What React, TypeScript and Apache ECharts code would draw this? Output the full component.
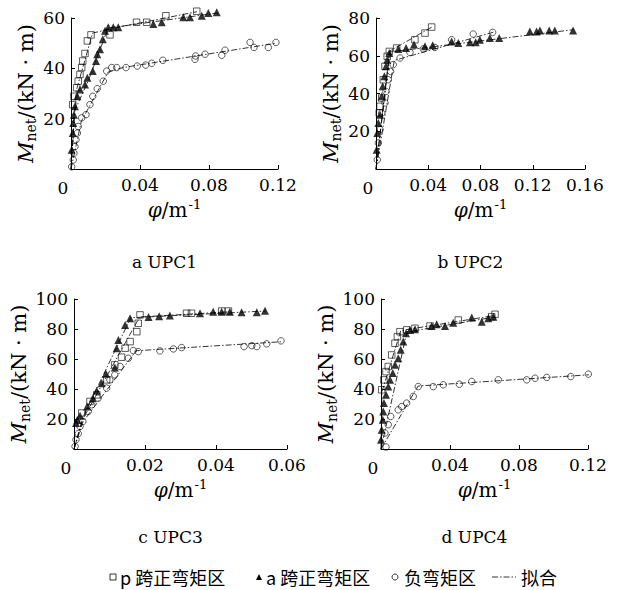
import React, { useEffect, useRef } from "react";
import * as echarts from "echarts";

type P = [number, number];

// ---------- Panel a: UPC1 ----------
const aSquare: P[] = [
  [0.001, 25.6], [0.0017, 28.9], [0.0033, 32.3], [0.0042, 34.9], [0.0052, 37.6], [0.0062, 40.3],
  [0.0068, 42.9], [0.0081, 45.9], [0.0095, 50.9], [0.0116, 53.3], [0.0226, 53.3], [0.038, 58.3],
  [0.0439, 58.3], [0.055, 60.9], [0.0729, 62.7],
];
const aTriangle: P[] = [
  [0.0004, 7.6], [0.001, 14.3], [0.0013, 18.3], [0.0017, 21.6], [0.0023, 24.9], [0.0037, 28.9],
  [0.0052, 31.6], [0.0081, 33.6], [0.0095, 36.3], [0.0126, 38.9], [0.0145, 42.9], [0.0152, 45.6],
  [0.0168, 47.6], [0.0184, 51.6], [0.0197, 54.9], [0.0216, 56.3], [0.0245, 56.3], [0.0274, 56.3],
  [0.0477, 57.6], [0.0526, 58.3], [0.0651, 60.3], [0.069, 60.3], [0.0758, 60.9], [0.0796, 62],
  [0.0845, 62.3],
];
const aCircle: P[] = [
  [0.0004, 0.9], [0.0013, 3.6], [0.0017, 6.3], [0.0023, 8.9], [0.0029, 11.6], [0.0037, 14.3],
  [0.0042, 16.9], [0.0062, 20.3], [0.0087, 21.6], [0.011, 25.6], [0.0126, 28.9], [0.0152, 31.9],
  [0.0187, 34.9], [0.0207, 38.9], [0.0236, 40.3], [0.0265, 40.3], [0.0319, 40.3], [0.0384, 40.9],
  [0.0433, 41.3], [0.0468, 42], [0.0532, 43.2], [0.0719, 43.6], [0.0723, 44.9], [0.0777, 45.6],
  [0.0874, 45.2], [0.0893, 47.2], [0.1038, 50.3], [0.1061, 48.3], [0.1144, 48.3], [0.1188, 50.3],
];
const aSquareFit: P[] = [[0, 0], [0.003, 31], [0.0125, 54], [0.025, 56], [0.073, 62.5]];
const aTriangleFit: P[] = [[0, 0], [0.002, 23], [0.01, 35], [0.0215, 56], [0.085, 62]];
const aCircleFit: P[] = [[0, 0], [0.006, 19], [0.0215, 38.5], [0.03, 40.3], [0.119, 50]];

// ---------- Panel b: UPC2 ----------
const bSquare: P[] = [
  [0.0025, 29.7], [0.0031, 33.2], [0.0044, 37.6], [0.0056, 47.3], [0.0069, 54.4], [0.0086, 59.7],
  [0.0102, 62.3], [0.0158, 64.1], [0.0298, 68.5], [0.0375, 72], [0.0426, 75.2],
];
const bTriangle: P[] = [
  [0.0005, 10.2], [0.001, 19.1], [0.0018, 24.4], [0.0031, 28.8], [0.0044, 38.5], [0.0051, 43.8],
  [0.0064, 49.1], [0.0076, 54.4], [0.0086, 57.9], [0.0102, 61.5], [0.0171, 63.6], [0.023, 64.1],
  [0.0291, 65.9], [0.0375, 65], [0.0434, 65.5], [0.0579, 67.6], [0.063, 66.8], [0.0719, 67.1],
  [0.0763, 67.1], [0.0795, 68.5], [0.0872, 69.4], [0.0943, 69.4], [0.1178, 72.9], [0.1229, 72.9],
  [0.1255, 73.4], [0.1326, 73.4], [0.1369, 73.4], [0.1509, 73.4],
];
const bCircle: P[] = [
  [0.001, 4.9], [0.0018, 13.8], [0.0031, 20.8], [0.0044, 29.7], [0.0069, 35], [0.0076, 41.1],
  [0.0094, 47.3], [0.0112, 51.7], [0.0132, 55.3], [0.0184, 58.8], [0.026, 61.8], [0.0362, 63.6],
  [0.0451, 64.4], [0.0579, 68.5], [0.0744, 71.5], [0.0893, 72.4],
];
const bSquareFit: P[] = [[0, 0], [0.0105, 62.5], [0.0435, 75.5]];
const bTriangleFit: P[] = [[0, 0], [0.0105, 62], [0.151, 73.8]];
const bCircleFit: P[] = [[0, 0], [0.014, 57.5], [0.09, 72.5]];

// ---------- Panel c: UPC3 ----------
const cSquare: P[] = [
  [0.0022, 24], [0.0045, 31.7], [0.0064, 36.1], [0.0092, 46.1], [0.0115, 56.1], [0.0134, 61.2],
  [0.0144, 67.2], [0.0158, 71.6], [0.0177, 78.2], [0.0181, 83.8], [0.0186, 89.4], [0.0317, 90.5],
  [0.0331, 90.5], [0.0416, 92], [0.0435, 92],
];
const cTriangle: P[] = [
  [0.00056, 17.3], [0.00093, 19.5], [0.0017, 22.2], [0.0037, 28.3], [0.0053, 33.9], [0.0064, 38.8],
  [0.0078, 43.9], [0.009, 50.1], [0.0115, 54.3], [0.012, 67.2], [0.0125, 72.7], [0.0144, 82.7],
  [0.0158, 87.2], [0.021, 88], [0.024, 88.5], [0.027, 89], [0.0355, 90.5], [0.0392, 91.5],
  [0.0416, 91.5], [0.0439, 91.5], [0.0472, 91.1], [0.0515, 91.1], [0.0538, 92.2],
];
const cCircle: P[] = [
  [0.0003, 1.7], [0.00056, 6.2], [0.0012, 10.2], [0.0017, 15], [0.0025, 18.4], [0.004, 25],
  [0.005, 29.5], [0.0068, 33.9], [0.0092, 40.6], [0.0101, 46.1], [0.0115, 49.4], [0.013, 55],
  [0.0153, 60.5], [0.0167, 65.6], [0.0181, 64.9], [0.0242, 65.4], [0.028, 66.7], [0.0303, 67.6],
  [0.0479, 68.3], [0.0501, 68.9], [0.0515, 68.3], [0.0543, 70.1], [0.0583, 72.1],
];
const cSquareFit: P[] = [[0, 0], [0.0025, 20], [0.0185, 88], [0.044, 91.5]];
const cTriangleFit: P[] = [[0, 0], [0.0025, 21], [0.016, 87.5], [0.054, 92]];
const cCircleFit: P[] = [[0, 0], [0.0025, 18], [0.0175, 65.5], [0.0585, 71.5]];

// ---------- Panel d: UPC4 ----------
const dSquare: P[] = [
  [0.0004, 39.5], [0.0017, 46.1], [0.0029, 51.6], [0.0042, 55], [0.0062, 62.7], [0.0081, 70.5],
  [0.0095, 74.9], [0.011, 78.2], [0.0149, 79.4], [0.0197, 80.5], [0.0284, 82], [0.0448, 86],
  [0.0642, 88.2], [0.0661, 89.8],
];
const dTriangle: P[] = [
  [0, 6.2], [0.0004, 12.8], [0.001, 19.5], [0.0013, 25], [0.0017, 30.6], [0.0029, 36.1],
  [0.0042, 41.6], [0.0052, 46.1], [0.0068, 50.6], [0.0081, 56.1], [0.01, 60.5], [0.0114, 66.1],
  [0.0129, 71.6], [0.0145, 77.2], [0.0168, 79.4], [0.0197, 79.8], [0.0294, 82], [0.0323, 83.2],
  [0.0371, 82], [0.0419, 84.2], [0.0526, 87.6], [0.0584, 84.9], [0.0622, 87.2], [0.0651, 88.2],
];
const dCircle: P[] = [
  [0.0029, 1.3], [0.0023, 10.6], [0.0042, 16.2], [0.0056, 21.7], [0.01, 26.1], [0.012, 28.3],
  [0.0149, 30.6], [0.0187, 35], [0.0216, 41.6], [0.0303, 41.6], [0.0361, 42.8], [0.0454, 43.2],
  [0.0526, 45], [0.068, 46.1], [0.0845, 46.1], [0.0893, 47.2], [0.0961, 47.7], [0.11, 48.3],
  [0.1202, 49.9],
];
const dSquareFit: P[] = [[0, 0], [0.0005, 38], [0.0115, 79], [0.066, 89]];
const dTriangleFit: P[] = [[0, 0], [0.015, 78], [0.066, 88]];
const dCircleFit: P[] = [[0, 0], [0.0215, 42], [0.121, 49.5]];

// ---------- axes / labels ----------
const xMaxes = [0.12, 0.16, 0.06, 0.12];
const xSteps = [0.04, 0.04, 0.02, 0.04];
const yMaxes = [60, 80, 100, 100];
const yStep = 20;
const panelTitles = ["a UPC1", "b UPC2", "c UPC3", "d UPC4"];
const legendNames = ["p 跨正弯矩区", "a 跨正弯矩区", "负弯矩区", "拟合"];

const panels = [
  { sq: aSquare, tr: aTriangle, ci: aCircle, sqF: aSquareFit, trF: aTriangleFit, ciF: aCircleFit },
  { sq: bSquare, tr: bTriangle, ci: bCircle, sqF: bSquareFit, trF: bTriangleFit, ciF: bCircleFit },
  { sq: cSquare, tr: cTriangle, ci: cCircle, sqF: cSquareFit, trF: cTriangleFit, ciF: cCircleFit },
  { sq: dSquare, tr: dTriangle, ci: dCircle, sqF: dSquareFit, trF: dTriangleFit, ciF: dCircleFit },
];

const grids = [
  { left: 71, top: 18, width: 207, height: 151 },
  { left: 376, top: 18, width: 209, height: 151 },
  { left: 74, top: 299, width: 213, height: 150 },
  { left: 381, top: 299, width: 207, height: 150 },
];

const SERIF = "DejaVu Serif";
const CJK = "Noto Sans CJK SC";
const DASHDOT = [6, 2, 1.5, 2];

export default function App() {
  const ref = useRef<HTMLDivElement>(null);
  useEffect(() => {
    if (!ref.current) return;
    const chart = echarts.init(ref.current, undefined, { renderer: "svg" });

    const xAxis: any[] = [];
    const yAxis: any[] = [];
    const series: any[] = [];
    const graphic: any[] = [];

    grids.forEach((g, i) => {
      xAxis.push({
        gridIndex: i,
        type: "value",
        min: 0,
        max: xMaxes[i],
        interval: xSteps[i],
        axisLine: { show: true, onZero: false, lineStyle: { color: "#000", width: 1 } },
        axisTick: { show: true, inside: true, length: 4, lineStyle: { color: "#000" } },
        splitLine: { show: false },
        axisLabel: {
          color: "#000",
          fontFamily: SERIF,
          fontSize: 17,
          margin: 7,
          formatter: (v: number) => (v === 0 ? "" : v.toFixed(2)),
        },
        name: "{i|φ}{n|/m}{s|-1}",
        nameLocation: "middle",
        nameGap: 29,
        nameTextStyle: {
          rich: {
            i: { fontFamily: SERIF, fontStyle: "italic", fontSize: 20, color: "#000" },
            n: { fontFamily: SERIF, fontSize: 20, color: "#000" },
            s: { fontFamily: SERIF, fontSize: 13, color: "#000", padding: [0, 0, 10, 1] },
          },
        },
      });
      yAxis.push({
        gridIndex: i,
        type: "value",
        min: 0,
        max: yMaxes[i],
        interval: yStep,
        axisLine: { show: true, onZero: false, lineStyle: { color: "#000", width: 1 } },
        axisTick: { show: true, inside: true, length: 4, lineStyle: { color: "#000" } },
        splitLine: { show: false },
        axisLabel: {
          color: "#000",
          fontFamily: SERIF,
          fontSize: 17,
          margin: 6,
          formatter: (v: number) => (v === 0 ? "" : String(v)),
        },
        name: "{i|M}{s|net}{n|/(kN · m)}",
        nameLocation: "middle",
        nameRotate: 90,
        nameGap: 33,
        nameTextStyle: {
          rich: {
            i: { fontFamily: SERIF, fontStyle: "italic", fontSize: 21, color: "#000" },
            s: { fontFamily: SERIF, fontSize: 14, color: "#000", padding: [11, 0, 0, 0] },
            n: { fontFamily: SERIF, fontSize: 21, color: "#000" },
          },
        },
      });

      const p = panels[i];
      const fitStyle = { color: "#000", width: 0.8, type: DASHDOT };
      [p.sqF, p.trF, p.ciF].forEach((d) => {
        series.push({
          type: "line",
          name: legendNames[3],
          xAxisIndex: i,
          yAxisIndex: i,
          data: d,
          symbol: "none",
          clip: false,
          lineStyle: fitStyle,
          z: 1,
        });
      });
      series.push({
        type: "scatter",
        name: legendNames[0],
        xAxisIndex: i,
        yAxisIndex: i,
        data: p.sq,
        symbol: "rect",
        symbolSize: 6.5,
        clip: false,
        itemStyle: { color: "rgba(0,0,0,0)", borderColor: "#000", borderWidth: 0.8 },
        z: 3,
      });
      series.push({
        type: "scatter",
        name: legendNames[1],
        xAxisIndex: i,
        yAxisIndex: i,
        data: p.tr,
        symbol: "triangle",
        symbolSize: 8,
        clip: false,
        itemStyle: { color: "#000" },
        z: 3,
      });
      series.push({
        type: "scatter",
        name: legendNames[2],
        xAxisIndex: i,
        yAxisIndex: i,
        data: p.ci,
        symbol: "circle",
        symbolSize: 6.5,
        clip: false,
        itemStyle: { color: "rgba(0,0,0,0)", borderColor: "#000", borderWidth: 0.8 },
        z: 3,
      });

      // origin "0"
      graphic.push({
        type: "text",
        x: g.left - 8,
        y: g.top + g.height + 19,
        style: {
          text: "0",
          fill: "#000",
          font: `17px "${SERIF}"`,
          textAlign: "center",
          textVerticalAlign: "middle",
        },
      });
      // panel title
      graphic.push({
        type: "text",
        x: g.left + g.width / 2 - 10,
        y: i < 2 ? 262 : 537,
        style: {
          text: panelTitles[i],
          fill: "#000",
          font: `17px "${SERIF}"`,
          textAlign: "center",
          textVerticalAlign: "middle",
        },
      });
    });

    // legend row
    const ly = 577;
    const legendFont = `18px "${CJK}"`;
    graphic.push(
      { type: "rect", shape: { x: 110, y: ly - 3, width: 6, height: 6 }, style: { fill: "none", stroke: "#000", lineWidth: 0.8 } },
      { type: "text", x: 120, y: ly, style: { text: legendNames[0], fill: "#000", font: legendFont, textVerticalAlign: "middle" } },
      { type: "polygon", shape: { points: [[256, ly + 3], [262, ly + 3], [259, ly - 3]] }, style: { fill: "#000" } },
      { type: "text", x: 266, y: ly, style: { text: legendNames[1], fill: "#000", font: legendFont, textVerticalAlign: "middle" } },
      { type: "circle", shape: { cx: 395, cy: ly, r: 3 }, style: { fill: "none", stroke: "#000", lineWidth: 0.8 } },
      { type: "text", x: 404, y: ly, style: { text: legendNames[2], fill: "#000", font: legendFont, textVerticalAlign: "middle" } },
      { type: "line", shape: { x1: 492, y1: ly, x2: 516, y2: ly }, style: { stroke: "#000", lineWidth: 0.8, lineDash: DASHDOT } },
      { type: "text", x: 521, y: ly, style: { text: legendNames[3], fill: "#000", font: legendFont, textVerticalAlign: "middle" } }
    );

    chart.setOption({
      animation: false,
      backgroundColor: "#fff",
      grid: grids.map((g) => ({ ...g, containLabel: false })),
      xAxis,
      yAxis,
      series,
      graphic,
    });
    return () => chart.dispose();
  }, []);

  return (
    <div
      ref={ref}
      style={{ position: "fixed", left: 0, top: 0, width: 617, height: 590, background: "#fff" }}
    />
  );
}
